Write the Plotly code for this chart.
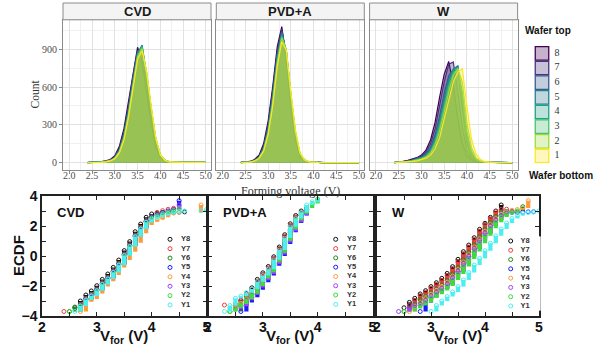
import plotly.graph_objects as go

FIG_W, FIG_H = 600, 348


def PX(x):
    return x / FIG_W


def PY(y):
    return 1 - y / FIG_H


# ------------------------------------------------------------------ data
# top row: forming-voltage histograms (frequency polygons), series = wafer position 8..1
hist_volts = [2.4, 2.5, 2.6, 2.7, 2.8, 2.9, 3.0, 3.1, 3.2, 3.3, 3.4, 3.5, 3.6, 3.7,
              3.8, 3.9, 4.0, 4.1, 4.2, 4.3, 4.4, 4.5, 4.6, 4.7, 4.8, 4.9, 5.0]
wafer_positions = [8, 7, 6, 5, 4, 3, 2, 1]
wafer_colors = ['#440154', '#46337E', '#365C8D', '#277F8E',
                '#1FA187', '#4AC16D', '#9FDA3A', '#FDE725']

cvd_counts = [
    [2, 3, 5, 8, 14, 25, 55, 130, 270, 480, 720, 916, 800, 560, 310, 130, 45, 15, 6, 4, 3, 3, 2, 2, 2, 2, 2],
    [1, 2, 4, 7, 12, 22, 48, 115, 245, 450, 690, 890, 880, 620, 360, 150, 50, 16, 6, 4, 3, 2, 2, 2, 2, 2, 2],
    [1, 1, 3, 6, 10, 20, 45, 105, 230, 430, 670, 880, 910, 650, 380, 165, 55, 18, 6, 4, 3, 2, 2, 2, 2, 2, 2],
    [1, 1, 3, 5, 10, 18, 40, 98, 215, 410, 650, 870, 934, 680, 400, 175, 58, 18, 6, 3, 3, 2, 2, 2, 2, 2, 2],
    [0, 1, 2, 5, 9, 17, 38, 92, 205, 395, 640, 860, 925, 700, 420, 185, 60, 18, 6, 3, 2, 2, 2, 2, 2, 2, 2],
    [0, 1, 2, 4, 8, 16, 36, 88, 198, 385, 625, 850, 915, 710, 430, 190, 62, 20, 6, 3, 2, 2, 2, 2, 2, 2, 2],
    [0, 0, 2, 4, 8, 15, 34, 84, 190, 375, 610, 840, 905, 715, 440, 195, 64, 20, 6, 3, 2, 2, 2, 2, 2, 2, 2],
    [0, 0, 1, 3, 7, 14, 32, 80, 180, 360, 590, 820, 889, 720, 450, 200, 66, 20, 6, 3, 2, 2, 2, 2, 2, 2, 2],
]
pvd_counts = [
    [3, 5, 10, 25, 60, 150, 330, 600, 920, 1080, 820, 450, 180, 50, 15, 5, 3, 2, 1, 1, 1, 1, 1, 1, 1, 1, 1],
    [2, 4, 8, 20, 50, 130, 300, 570, 880, 1060, 850, 480, 200, 60, 18, 6, 3, 2, 1, 1, 1, 1, 1, 1, 1, 1, 1],
    [2, 3, 7, 18, 45, 120, 280, 540, 860, 1040, 870, 500, 210, 65, 20, 6, 3, 2, 1, 1, 1, 1, 1, 1, 1, 1, 1],
    [1, 3, 6, 16, 42, 112, 265, 520, 840, 1030, 880, 515, 220, 68, 20, 6, 3, 2, 1, 1, 1, 1, 1, 1, 1, 1, 1],
    [1, 2, 5, 15, 40, 105, 250, 500, 820, 1010, 890, 530, 230, 70, 20, 6, 3, 2, 1, 1, 1, 1, 1, 1, 1, 1, 1],
    [1, 2, 5, 14, 38, 100, 240, 485, 800, 1000, 895, 540, 240, 72, 21, 6, 3, 2, 1, 1, 1, 1, 1, 1, 1, 1, 1],
    [1, 2, 4, 13, 36, 95, 230, 470, 785, 990, 900, 550, 250, 75, 22, 7, 3, 2, 1, 1, 1, 1, 1, 1, 1, 1, 1],
    [1, 2, 4, 12, 34, 90, 220, 450, 760, 960, 890, 560, 260, 80, 24, 7, 3, 2, 1, 1, 1, 1, 1, 1, 1, 1, 1],
]
w_counts = [
    [2, 5, 10, 18, 28, 40, 60, 100, 180, 320, 520, 700, 804, 620, 350, 150, 55, 20, 8, 4, 3, 2, 2, 2, 1, 1, 1],
    [1, 4, 8, 15, 24, 35, 52, 85, 150, 270, 450, 640, 780, 800, 560, 280, 100, 35, 12, 5, 3, 2, 2, 2, 1, 1, 1],
    [1, 3, 6, 12, 20, 30, 45, 70, 120, 220, 370, 550, 690, 740, 765, 420, 160, 55, 18, 7, 3, 2, 2, 1, 1, 1, 1],
    [1, 2, 5, 10, 18, 27, 40, 62, 105, 195, 335, 510, 660, 740, 770, 460, 180, 60, 20, 8, 3, 2, 2, 1, 1, 1, 1],
    [0, 2, 4, 9, 16, 24, 36, 55, 95, 175, 305, 470, 630, 730, 760, 520, 220, 75, 25, 9, 4, 2, 2, 1, 1, 1, 1],
    [0, 2, 4, 8, 14, 22, 32, 50, 85, 160, 280, 440, 600, 710, 750, 560, 250, 90, 30, 10, 4, 2, 2, 1, 1, 1, 1],
    [0, 1, 3, 7, 12, 19, 28, 44, 75, 140, 250, 400, 560, 690, 745, 640, 320, 120, 40, 14, 5, 3, 2, 1, 1, 1, 1],
    [0, 1, 2, 5, 10, 15, 22, 35, 60, 110, 200, 340, 500, 640, 720, 745, 450, 190, 70, 25, 8, 4, 2, 1, 1, 1, 1],
]
hist_panels = ['CVD', 'PVD+A', 'W']

# bottom row: ECDF (probit scale) level reached at each forming-voltage step, series Y8..Y1
ecdf_names = ['Y8', 'Y7', 'Y6', 'Y5', 'Y4', 'Y3', 'Y2', 'Y1']
ecdf_colors = ['#111111', '#f03c3c', '#1e8c1e', '#1a1aff',
               '#ff9a3c', '#a040ff', '#3cdc3c', '#4cefef']
N = None
cvd_volts = [2.4, 2.5, 2.6, 2.7, 2.8, 2.9, 3.0, 3.1, 3.2, 3.3, 3.4, 3.5, 3.6, 3.7,
             3.8, 3.9, 4.0, 4.1, 4.2, 4.3, 4.4, 4.5, 4.6, 4.7, 4.8, 4.9, 5.0]
cvd_levels = [
    [N, N, -3.45, -3.0, -2.6, -2.33, -1.98, -1.56, -1.2, -0.76, -0.27, 0.36, 0.96, 1.62, 2.13, 2.58, 2.8, 2.86, 2.88, 2.9, 2.92, 2.93, 2.94, N, N, N, N],
    [-3.7, N, N, -3.22, -2.82, -2.55, -2.2, -1.78, -1.42, -0.98, -0.49, 0.14, 0.74, 1.4, 1.91, 2.36, 2.62, 2.91, 3.02, 3.11, 3.18, N, N, N, N, N, N],
    [N, -3.7, -3.4, -3.26, -2.86, -2.59, -2.24, -1.82, -1.46, -1.02, -0.53, 0.1, 0.7, 1.36, 1.87, 2.32, 2.6, 2.78, 2.9, 2.98, 3.0, N, N, N, N, N, N],
    [N, N, N, -3.28, -2.88, -2.61, -2.26, -1.84, -1.48, -1.04, -0.55, 0.08, 0.68, 1.34, 1.85, 2.3, 2.58, 2.75, 2.9, 3.0, 3.1, 3.69, N, N, N, N, N],
    [N, N, N, -3.7, -3.05, -2.87, -2.5, -2.04, -1.69, -1.27, -0.76, -0.27, 0.29, 0.89, 1.51, 2.07, 2.29, 2.44, 2.58, 2.78, 2.86, 2.9, N, N, N, 3.4, N],
    [N, N, N, -3.3, -2.9, -2.63, -2.28, -1.86, -1.5, -1.06, -0.57, 0.06, 0.66, 1.32, 1.83, 2.28, 2.55, 2.72, 2.86, 2.98, 3.08, 3.4, N, N, N, N, N],
    [N, -3.7, N, -3.32, -2.92, -2.65, -2.3, -1.88, -1.52, -1.08, -0.59, 0.04, 0.64, 1.3, 1.81, 2.26, 2.52, 2.68, 2.82, 2.94, 3.04, 3.15, N, N, N, N, N],
    [N, N, -3.7, -3.34, -2.94, -2.67, -2.32, -1.9, -1.54, -1.1, -0.61, 0.02, 0.62, 1.28, 1.79, 2.24, 2.45, 2.6, 2.74, 2.84, 2.92, 2.96, 3.0, N, N, 3.02, 3.1],
]
pvd_volts = [2.3, 2.4, 2.5, 2.6, 2.7, 2.8, 2.9, 3.0, 3.1, 3.2, 3.3, 3.4, 3.5, 3.6, 3.7, 3.8, 3.9, 4.0]
pvd_levels = [
    [N, N, -3.3, -2.95, -2.5, -2.12, -1.56, -1.12, -0.7, -0.05, 0.6, 1.42, 2.15, 2.7, 3.0, N, N, N],
    [-3.27, N, -3.2, -3.0, -2.6, -2.22, -1.68, -1.22, -0.8, -0.15, 0.5, 1.32, 2.05, 2.6, 2.92, N, N, N],
    [N, -3.7, N, -3.3, -2.9, -2.55, -2.05, -1.58, -1.15, -0.5, 0.15, 0.95, 1.7, 2.3, 2.75, 3.1, N, N],
    [N, N, N, -3.7, -3.1, -2.75, -2.25, -1.75, -1.3, -0.65, 0.0, 0.8, 1.58, 2.2, 2.7, 3.2, N, N],
    [N, -3.5, -3.3, -3.15, -2.85, -2.5, -2.0, -1.52, -1.1, -0.45, 0.2, 1.0, 1.75, 2.35, 2.8, N, N, N],
    [N, N, -3.55, -3.35, -2.95, -2.6, -2.1, -1.62, -1.2, -0.55, 0.1, 0.9, 1.65, 2.25, 2.72, 3.1, N, N],
    [N, -3.7, -3.45, -3.2, -2.88, -2.52, -2.0, -1.5, -1.08, -0.42, 0.22, 1.02, 1.78, 2.38, 2.82, 3.2, 3.5, 3.8],
    [-3.7, -3.3, -2.82, -2.67, -2.45, -2.2, -1.72, -1.3, -0.88, -0.25, 0.4, 1.2, 1.95, 2.5, 2.9, 3.4, 3.62, 3.72],
]
w_volts = [2.4, 2.5, 2.6, 2.7, 2.8, 2.9, 3.0, 3.1, 3.2, 3.3, 3.4, 3.5, 3.6, 3.7,
           3.8, 3.9, 4.0, 4.1, 4.2, 4.3, 4.4, 4.5, 4.6, 4.7, 4.8, 4.9, 5.0]
w_levels = [
    [N, -3.45, -3.09, -2.82, -2.53, -2.31, -2.04, -1.78, -1.49, -1.16, -0.71, -0.22, 0.29, 0.73, 1.22, 1.78, 2.18, 2.58, 3.0, 3.4, N, N, N, N, N, N, N],
    [N, N, -3.3, -2.95, -2.65, -2.42, -2.15, -1.9, -1.62, -1.3, -0.85, -0.38, 0.12, 0.6, 1.1, 1.65, 2.1, 2.52, 2.95, 3.1, 3.12, N, N, N, N, N, N],
    [N, -3.7, -3.5, -3.2, -2.9, -2.68, -2.45, -2.2, -1.95, -1.62, -1.2, -0.75, -0.25, 0.25, 0.75, 1.3, 1.8, 2.25, 2.65, 2.9, 2.96, 3.0, N, 3.29, N, N, N],
    [N, N, N, N, -3.7, -3.1, -2.75, -2.45, -2.2, -1.9, -1.5, -1.05, -0.55, -0.05, 0.45, 1.0, 1.5, 2.0, 2.4, 2.7, 2.85, 2.9, 2.92, 2.93, 2.94, 2.95, N],
    [N, N, -3.7, -3.35, -3.1, -2.85, -2.55, -2.3, -2.05, -1.75, -1.35, -0.9, -0.4, 0.1, 0.6, 1.15, 1.65, 2.1, 2.5, 2.75, 2.9, 3.05, 3.1, 3.2, 3.69, N, N],
    [-3.7, N, -3.45, -3.3, -3.2, -2.95, -2.65, -2.4, -2.15, -1.85, -1.45, -1.0, -0.5, 0.0, 0.5, 1.05, 1.55, 2.0, 2.4, 2.7, 2.85, 2.95, N, N, N, N, N],
    [N, -3.7, N, -3.5, -3.3, -3.1, -2.8, -2.55, -2.3, -2.0, -1.6, -1.2, -0.7, -0.2, 0.3, 0.85, 1.35, 1.85, 2.25, 2.6, 2.8, 2.9, 3.0, N, N, N, N],
    [N, N, N, N, N, N, -3.7, -3.3, -3.0, -2.7, -2.4, -2.04, -1.6, -1.1, -0.6, -0.16, 0.35, 0.85, 1.35, 1.8, 2.2, 2.5, 2.7, 2.85, 2.9, 2.95, 3.0],
]
ecdf_panels = ['CVD', 'PVD+A', 'W']

# ------------------------------------------------------------------ layout geometry (pixels)
top_x_dom = [(63, 211), (216.3, 364.3), (369.6, 517.6)]
top_y_dom = (19.8, 169.5)
strip_top = 3
bot_x_dom = [(42, 206.5), (208, 372.5), (377, 539)]
bot_y_dom = (196, 316)
leg_boxes = [  # marker x, text x, first-row y, last-row y
    (170, 181.0, 239.3, 305.0),
    (335.7, 347.0, 239.3, 304.3),
    (510.7, 520.5, 241.0, 306.0),
]

SERIF = 'Liberation Serif'
SANS = 'Liberation Sans'


def rgba(hexc, a):
    h = hexc.lstrip('#')
    return 'rgba(%d,%d,%d,%s)' % (int(h[0:2], 16), int(h[2:4], 16), int(h[4:6], 16), a)


def ecdf_segments(volts, levels):
    xs, ys, mx, my = [], [], [], []
    prev = None
    for v, lev in zip(volts, levels):
        if lev is None:
            continue
        if prev is not None:
            xs += [v, v, None]
            ys += [prev, lev, None]
        mx.append(v)
        my.append(lev)
        prev = lev
    return xs, ys, mx, my


fig = go.Figure()
layout = {}

# ------------------------------------------------------------------ top histograms
for i, counts in enumerate([cvd_counts, pvd_counts, w_counts]):
    sfx = '' if i == 0 else str(i + 1)
    for pos, col, ys in zip(wafer_positions, wafer_colors, counts):
        fig.add_trace(go.Scatter(
            x=hist_volts, y=ys, mode='lines', fill='tozeroy',
            fillcolor=rgba(col, 0.34), line=dict(color=col, width=1.2),
            xaxis='x' + sfx, yaxis='y' + sfx, showlegend=False, hoverinfo='skip',
            name=str(pos)))
    x0, x1 = top_x_dom[i]
    layout['xaxis' + sfx] = dict(
        domain=[PX(x0), PX(x1)], range=[1.86, 5.115], anchor='y' + sfx,
        tickmode='linear', tick0=2, dtick=0.5, tickformat='.1f',
        showgrid=True, gridcolor='#e2e2e2', gridwidth=0.8,
        minor=dict(tick0=2, dtick=0.25, showgrid=True, gridcolor='#f0f0f0', gridwidth=0.5),
        ticks='outside', ticklen=3, tickcolor='#8a8a8a', tickwidth=0.8,
        ticklabelstandoff=-7,
        showline=True, mirror=True, linecolor='#8a8a8a', linewidth=1,
        zeroline=False, automargin=False,
        tickfont=dict(family=SERIF, size=10, color='#4d4d4d'),
        fixedrange=True)
    layout['yaxis' + sfx] = dict(
        domain=[PY(top_y_dom[1]), PY(top_y_dom[0])], range=[-54, 1134], anchor='x' + sfx,
        tickmode='linear', tick0=0, dtick=300,
        showgrid=True, gridcolor='#e2e2e2', gridwidth=0.8,
        minor=dict(tick0=0, dtick=150, showgrid=True, gridcolor='#f0f0f0', gridwidth=0.5),
        ticks='outside' if i == 0 else '', ticklen=3, tickcolor='#8a8a8a', tickwidth=0.8,
        showticklabels=(i == 0),
        showline=True, mirror=True, linecolor='#8a8a8a', linewidth=1,
        zeroline=False, automargin=False,
        tickfont=dict(family=SERIF, size=10, color='#4d4d4d'),
        fixedrange=True)

# wafer legend (keys on a hidden axis, y = wafer position)
layout['xaxis7'] = dict(domain=[PX(530), PX(575)], range=[0, 45], visible=False,
                        anchor='y7', fixedrange=True, automargin=False)
leg_top = 53.3 - 0.5 * 14.67
leg_bot = 156 + 0.5 * 14.67
layout['yaxis7'] = dict(domain=[PY(leg_bot), PY(leg_top)], range=[0.5, 8.5], visible=False,
                        anchor='x7', fixedrange=True, automargin=False)
fig.add_trace(go.Scatter(
    x=[12] * len(wafer_positions), y=wafer_positions, mode='markers',
    marker=dict(symbol='square', size=13.5,
                color=[rgba(c, 0.3) for c in wafer_colors],
                line=dict(color=wafer_colors, width=1.3)),
    xaxis='x7', yaxis='y7', showlegend=False, hoverinfo='skip'))
fig.add_trace(go.Scatter(
    x=[27] * len(wafer_positions), y=wafer_positions, mode='text',
    text=[str(p) for p in wafer_positions], textposition='middle center',
    textfont=dict(family=SERIF, size=10, color='#333333'),
    xaxis='x7', yaxis='y7', showlegend=False, hoverinfo='skip'))

# ------------------------------------------------------------------ bottom ECDF panels
for i, (volts, levels) in enumerate([(cvd_volts, cvd_levels), (pvd_volts, pvd_levels),
                                      (w_volts, w_levels)]):
    n = 4 + i
    for name, col, lev in zip(ecdf_names, ecdf_colors, levels):
        xs, ys, mx, my = ecdf_segments(volts, lev)
        fig.add_trace(go.Scatter(
            x=xs, y=ys, mode='lines', line=dict(color=col, width=4.2),
            xaxis='x%d' % n, yaxis='y%d' % n, showlegend=False, hoverinfo='skip'))
        fig.add_trace(go.Scatter(
            x=mx, y=my, mode='markers',
            marker=dict(symbol='circle-open', size=4, color=col, line=dict(width=1)),
            xaxis='x%d' % n, yaxis='y%d' % n, showlegend=False, hoverinfo='skip'))
    x0, x1 = bot_x_dom[i]
    layout['xaxis%d' % n] = dict(
        domain=[PX(x0), PX(x1)], range=[2, 5], anchor='y%d' % n,
        tickmode='linear', tick0=2, dtick=1,
        minor=dict(tick0=2, dtick=0.5, ticks='inside', ticklen=4, tickwidth=1,
                   tickcolor='#222222'),
        ticks='inside', ticklen=4, tickwidth=1, tickcolor='#222222',
        ticklabelstandoff=-3,
        showline=True, mirror='allticks', linecolor='#222222', linewidth=1.5,
        showgrid=False, zeroline=False, automargin=False,
        tickfont=dict(family=SANS, size=14, color='#111111', weight='bold'),
        fixedrange=True)
    layout['yaxis%d' % n] = dict(
        domain=[PY(bot_y_dom[1]), PY(bot_y_dom[0])], range=[-4, 4], anchor='x%d' % n,
        tickmode='linear', tick0=-4, dtick=2,
        minor=dict(tick0=-4, dtick=1, ticks='inside', ticklen=4, tickwidth=1,
                   tickcolor='#222222'),
        showticklabels=(i == 0),
        ticks='inside', ticklen=4, tickwidth=1, tickcolor='#222222',
        showline=True, mirror='allticks', linecolor='#222222', linewidth=1.5,
        showgrid=False, zeroline=False, automargin=False,
        tickfont=dict(family=SANS, size=14, color='#111111', weight='bold'),
        fixedrange=True)

    # per-panel series key on a hidden axis (y = row index 8..1)
    mxp, txp, y_first, y_last = leg_boxes[i]
    step = (y_last - y_first) / 7
    ln = 8 + i
    layout['xaxis%d' % ln] = dict(domain=[PX(mxp - 10), PX(mxp + 30)], range=[-10, 30],
                                  visible=False, anchor='y%d' % ln, fixedrange=True,
                                  automargin=False)
    layout['yaxis%d' % ln] = dict(domain=[PY(y_last + step / 2), PY(y_first - step / 2)],
                                  range=[0.5, 8.5], visible=False, anchor='x%d' % ln,
                                  fixedrange=True, automargin=False)
    rows = [8, 7, 6, 5, 4, 3, 2, 1]
    fig.add_trace(go.Scatter(
        x=[0] * 8, y=rows, mode='markers',
        marker=dict(symbol='circle-open', size=4, color=ecdf_colors, line=dict(width=1)),
        xaxis='x%d' % ln, yaxis='y%d' % ln, showlegend=False, hoverinfo='skip'))
    fig.add_trace(go.Scatter(
        x=[txp - mxp] * 8, y=rows, mode='text', text=ecdf_names, textposition='middle right',
        textfont=dict(family=SANS, size=7.5, color='#333333', weight='bold'),
        xaxis='x%d' % ln, yaxis='y%d' % ln, showlegend=False, hoverinfo='skip'))

# ------------------------------------------------------------------ decorations
shapes = []
annotations = []
for i, name in enumerate(hist_panels):
    x0, x1 = top_x_dom[i]
    shapes.append(dict(type='rect', xref='paper', yref='paper',
                       x0=PX(x0), x1=PX(x1), y0=PY(top_y_dom[0]), y1=PY(strip_top),
                       fillcolor='#f4f4f4', line=dict(color='#8a8a8a', width=1)))
    annotations.append(dict(text=name, xref='paper', yref='paper',
                            x=PX((x0 + x1) / 2), y=PY(11.8), showarrow=False,
                            xanchor='center', yanchor='middle',
                            font=dict(family=SANS, size=13, color='#1a1a1a', weight='bold')))

annotations += [
    dict(text='Count', x=PX(34), y=PY(94.5), textangle=-90,
         font=dict(family=SERIF, size=11.5, color='#333333')),
    dict(text='Forming voltage (V)', x=PX(290), y=PY(190.5),
         font=dict(family=SERIF, size=12, color='#333333')),
    dict(text='Wafer top', x=PX(523), y=PY(31), xanchor='left',
         font=dict(family=SANS, size=10, color='#111111', weight='bold')),
    dict(text='Wafer bottom', x=PX(527), y=PY(175), xanchor='left',
         font=dict(family=SANS, size=10, color='#111111', weight='bold')),
    dict(text='ECDF', x=PX(18), y=PY(256), textangle=-90,
         font=dict(family=SANS, size=15, color='#111111', weight='bold')),
]
for i, name in enumerate(ecdf_panels):
    x0, x1 = bot_x_dom[i]
    annotations.append(dict(text='V<sub>for</sub> (V)', x=PX((x0 + x1) / 2), y=PY(336),
                            font=dict(family=SANS, size=15, color='#111111', weight='bold')))
    annotations.append(dict(text=name, x=PX(x0 + 13), y=PY(212.5), xanchor='left',
                            font=dict(family=SANS, size=13, color='#111111', weight='bold')))

for a in annotations:
    a.setdefault('xref', 'paper')
    a.setdefault('yref', 'paper')
    a.setdefault('showarrow', False)
    a.setdefault('xanchor', 'center')
    a.setdefault('yanchor', 'middle')

fig.update_layout(
    template='none',
    width=FIG_W, height=FIG_H, autosize=False,
    margin=dict(l=0, r=0, t=0, b=0, pad=0),
    paper_bgcolor='white', plot_bgcolor='white',
    showlegend=False,
    shapes=shapes, annotations=annotations,
    **layout)

fig.write_html('out.html', config={'displayModeBar': False},
               post_script="document.body.style.margin='0px';"
                           "document.body.style.overflow='hidden';")
